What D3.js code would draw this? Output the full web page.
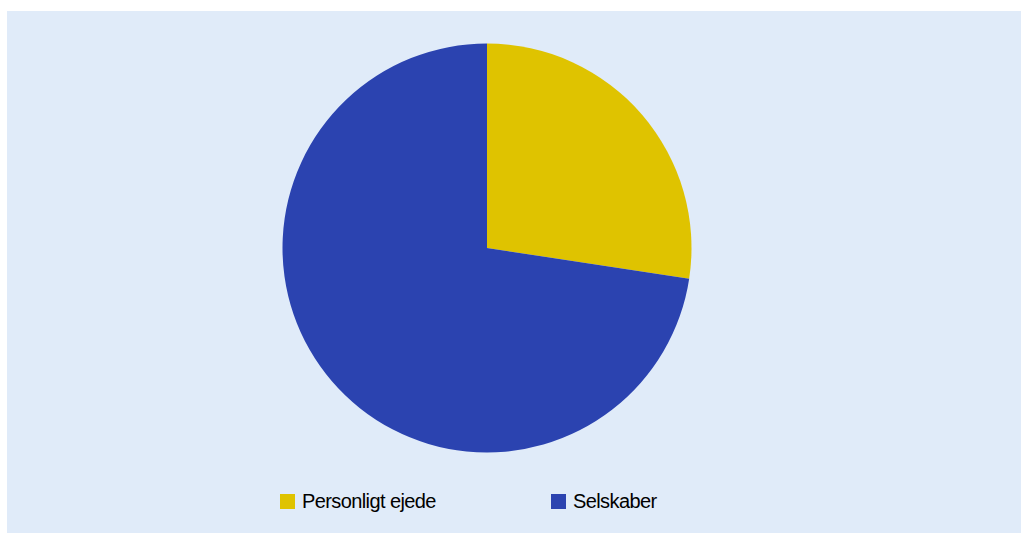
<!DOCTYPE html>
<html><head><meta charset="utf-8">
<script src="https://cdn.jsdelivr.net/npm/d3@7"></script>
<style>body{margin:0;background:#fff}svg{display:block}</style>
</head><body><svg id="c" width="1021" height="533"></svg>
<script>
const categories = ["Personligt ejede", "Selskaber"];
const values = [27.4, 72.6];
const colors = ["#dfc300", "#2b43b0"];

const svg = d3.select("#c");
svg.append("rect").attr("x", 7).attr("y", 11).attr("width", 1014).attr("height", 522).attr("fill", "#e0ebf9");

const cx = 487, cy = 248, r = 204.5;
const pie = d3.pie().sort(null).value(d => d)(values);
const arc = d3.arc().innerRadius(0).outerRadius(r);
svg.append("g").attr("transform", `translate(${cx},${cy})`)
  .selectAll("path").data(pie).join("path")
  .attr("d", arc).attr("fill", (d, i) => colors[i]);

const legX = [280, 551];
const lg = svg.append("g").selectAll("g").data(categories).join("g")
  .attr("transform", (d, i) => `translate(${legX[i]},494)`);
lg.append("rect").attr("width", 15).attr("height", 15).attr("fill", (d, i) => colors[i]);
lg.append("text").attr("x", 22).attr("y", 14)
  .attr("font-family", "Liberation Sans, Arial, sans-serif").attr("font-size", 20)
  .attr("letter-spacing", -0.6).attr("fill", "#000").text(d => d);
</script></body></html>
